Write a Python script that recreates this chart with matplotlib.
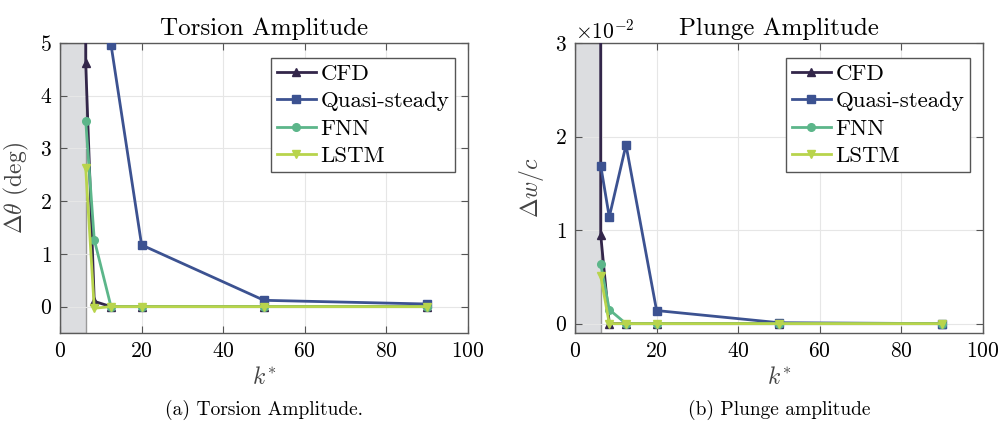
import matplotlib
matplotlib.use("Agg")
import matplotlib.pyplot as plt
import numpy as np
from matplotlib.ticker import ScalarFormatter

plt.rcParams["font.family"] = "cmr10"
plt.rcParams["mathtext.fontset"] = "cm"
plt.rcParams["axes.formatter.use_mathtext"] = True

# reduced frequency points
k_cfd = [6.2, 6.3, 8.4, 12.5, 20, 50, 90]
k_qs_t = [12.5, 20, 50, 90]
k_qs_p = [6.3, 8.4, 12.5, 20, 50, 90]
k_nn = [6.3, 8.4, 12.5, 20, 50, 90]

# torsion amplitude (deg)
tor_cfd = [40.0, 4.62, 0.10, 0.0, 0.0, 0.0, 0.0]
tor_qs = [4.97, 1.17, 0.12, 0.05]
tor_fnn = [3.53, 1.27, 0.0, 0.0, 0.0, 0.0]
tor_lstm = [2.63, -0.03, 0.0, 0.0, 0.0, 0.0]

# plunge amplitude (w/c)
plu_cfd = [0.30, 0.0095, 0.0, 0.0, 0.0, 0.0, 0.0]
plu_qs = [0.0169, 0.0114, 0.0191, 0.0014, 0.0001, 0.0]
plu_fnn = [0.0064, 0.0015, 0.0, 0.0, 0.0, 0.0]
plu_lstm = [0.0051, 0.0, 0.0, 0.0, 0.0, 0.0]

k_shade = 6.3

c_cfd = "#33264a"
c_qs = "#3c5291"
c_fnn = "#5cb68a"
c_lstm = "#b8d44c"

fig = plt.figure(figsize=(10.02, 4.48), dpi=100)
ax1 = fig.add_axes([60/1002, 1-333/448, 408/1002, 290/448])
ax2 = fig.add_axes([575/1002, 1-333/448, 408/1002, 290/448])

def style(ax):
    ax.axvspan(0, k_shade, facecolor="#dcdde0", edgecolor="#9a9a9a", lw=1.0, zorder=0)
    ax.grid(True, color="#e6e6e6", lw=0.8, zorder=0.5)
    ax.set_axisbelow(True)
    ax.tick_params(direction="in", top=True, right=True, labelsize=15.5, length=5,
                   color="#555555", pad=6)
    for s in ax.spines.values():
        s.set_color("#5a5a5a")
        s.set_linewidth(1.0)
    ax.set_xlim(0, 100)
    ax.set_xticks(np.arange(0, 101, 20))
    ax.set_xlabel(r"$k^{*}$", fontsize=17, color="#444444", labelpad=4)

kw = dict(lw=2.0, ms=5.5, zorder=3)

style(ax1)
ax1.plot(k_cfd, tor_cfd, "-^", color=c_cfd, label="CFD", **kw)
ax1.plot(k_qs_t, tor_qs, "-s", color=c_qs, label="Quasi-steady", **kw)
ax1.plot(k_nn, tor_fnn, "-o", color=c_fnn, label="FNN", **kw)
ax1.plot(k_nn, tor_lstm, "-v", color=c_lstm, label="LSTM", **kw)
ax1.set_ylim(-0.5, 5)
ax1.set_yticks(range(0, 6))
ax1.set_ylabel(r"$\Delta\theta$ (deg)", fontsize=17, color="#444444", labelpad=6)
ax1.set_title("Torsion Amplitude", fontsize=18, pad=6)

style(ax2)
ax2.plot(k_cfd, plu_cfd, "-^", color=c_cfd, label="CFD", **kw)
ax2.plot(k_qs_p, plu_qs, "-s", color=c_qs, label="Quasi-steady", **kw)
ax2.plot(k_nn, plu_fnn, "-o", color=c_fnn, label="FNN", **kw)
ax2.plot(k_nn, plu_lstm, "-v", color=c_lstm, label="LSTM", **kw)
ax2.set_ylim(-0.001, 0.03)
ax2.set_yticks([0, 0.01, 0.02, 0.03])
fmt = ScalarFormatter(useMathText=True)
fmt.set_powerlimits((-1, 1))
ax2.yaxis.set_major_formatter(fmt)
ax2.yaxis.get_offset_text().set_fontsize(15.5)
ax2.set_ylabel(r"$\Delta w/c$", fontsize=17, color="#444444", labelpad=6)
ax2.set_title("Plunge Amplitude", fontsize=18, pad=6)

for ax in (ax1, ax2):
    leg = ax.legend(loc="upper right", fontsize=16.5, frameon=True, fancybox=False,
                    edgecolor="#555555", framealpha=1, handlelength=1.7,
                    handletextpad=0.2, borderpad=0.25, labelspacing=0.32,
                    borderaxespad=0, bbox_to_anchor=(0.968, 0.948))
    leg.get_frame().set_linewidth(1.0)

fig.text(264/1002, 1-410/448, "(a) Torsion Amplitude.", ha="center", va="center", fontsize=14)
fig.text(779/1002, 1-410/448, "(b) Plunge amplitude", ha="center", va="center", fontsize=14)

fig.savefig("out.png", dpi=100)
